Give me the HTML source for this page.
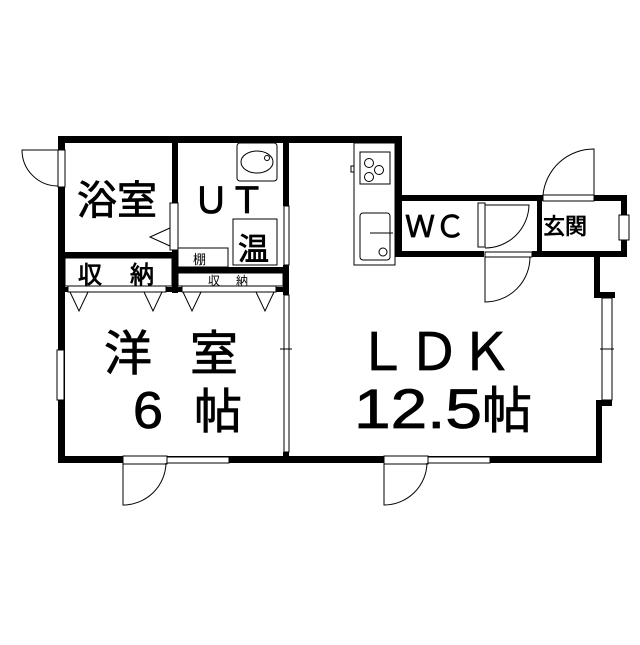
<!DOCTYPE html>
<html><head><meta charset="utf-8"><style>
body{margin:0;background:#fff}
svg text{font-family:"Liberation Sans","Noto Sans CJK JP",sans-serif;fill:#000}
.b{stroke:#000;stroke-width:0.8}
</style></head><body>
<svg width="640" height="640" viewBox="0 0 640 640" xmlns="http://www.w3.org/2000/svg">
<rect width="640" height="640" fill="#fff"/>
<g fill="#000">
<rect x="58" y="136" width="344" height="7"/>
<rect x="58" y="136" width="7" height="327"/>
<rect x="58" y="456" width="544" height="7"/>
<rect x="395" y="136" width="7" height="121"/>
<rect x="395" y="195" width="148" height="6"/>
<rect x="594" y="195" width="33" height="6"/>
<rect x="621" y="195" width="6" height="62"/>
<rect x="395" y="251" width="89" height="6"/>
<rect x="532" y="251" width="95" height="6"/>
<rect x="537" y="198" width="5" height="59"/>
<rect x="594" y="251" width="6" height="44"/>
<rect x="594" y="292" width="21" height="6"/>
<rect x="596" y="400" width="6" height="63"/>
<rect x="596" y="400" width="16" height="6"/>
<rect x="172" y="136" width="6" height="157"/>
<rect x="58" y="252" width="120" height="6"/>
<rect x="172" y="267" width="116" height="6"/>
<rect x="58" y="287" width="230" height="5"/>
<rect x="283" y="136" width="6" height="70"/>
<rect x="283" y="265" width="6" height="30"/>
<rect x="283" y="452" width="6" height="8"/>
</g>
<g fill="#fff" stroke="#000" stroke-width="1">
<rect x="170" y="203" width="8" height="47"/>
<rect x="68" y="286" width="98" height="6"/>
<rect x="182" y="286" width="94" height="6"/>
<rect x="284" y="206" width="5" height="59"/>
<rect x="284" y="295" width="5" height="157"/>
<rect x="58" y="150" width="7" height="37"/>
<rect x="57" y="350" width="7" height="50"/>
<rect x="602" y="298" width="10" height="102"/>
<rect x="619" y="215" width="10" height="25"/>
<rect x="123" y="456" width="44" height="8"/>
<rect x="167" y="457" width="62" height="6"/>
<rect x="384" y="456" width="44" height="8"/>
<rect x="428" y="457" width="62" height="6"/>
<rect x="478" y="203" width="7" height="44"/>
<rect x="485" y="252" width="47" height="5"/>
<rect x="543" y="195" width="51" height="6"/>
<rect x="65" y="258" width="107" height="28"/>
<rect x="178" y="273" width="105" height="13"/>
<rect x="178" y="248" width="50" height="19"/>
<rect x="233" y="219" width="44" height="46"/>
<rect x="237" y="143" width="40" height="38" rx="3"/>
<ellipse cx="257" cy="162" rx="16" ry="11"/>
<circle cx="267" cy="158" r="2.5"/>
<rect x="354" y="143" width="41" height="122"/>
<rect x="360" y="152" width="30" height="32"/>
<circle cx="369" cy="163" r="4.5"/><circle cx="379" cy="170" r="4.5"/><circle cx="369" cy="177" r="4.5"/>
<rect x="360" y="213" width="30" height="47" rx="3"/>
<circle cx="383" cy="252" r="4"/>
<rect x="351" y="166" width="3" height="6"/>
</g>
<g fill="none" stroke="#000" stroke-width="1">
<polyline points="170,228 150,237 170,246"/>
<polyline points="70,292 79,311 88,292"/>
<polyline points="144,292 153,311 162,292"/>
<polyline points="183,292 192,311 201,292"/>
<polyline points="256,292 265,311 274,292"/>
<path d="M58,150 L22,150 A36,36 0 0 0 58,186"/>
<path d="M123,463 L123,505 A43,43 0 0 0 166,463"/>
<path d="M384,463 L384,505 A43,43 0 0 0 427,463"/>
<path d="M485,205 L529,205 A44,44 0 0 1 485,248"/>
<path d="M485,257 L485,302 A45,45 0 0 0 530,257"/>
<path d="M594,195 L594,149 A51,51 0 0 0 543,195"/>
<line x1="370" y1="233" x2="393" y2="233"/>
<line x1="280" y1="349" x2="292" y2="349"/>
<line x1="600" y1="349" x2="614" y2="349"/>
</g>
<g>
<text class="b" x="77" y="214" font-size="40">浴室</text>
<text class="b" x="193" y="213" font-size="36">ＵＴ</text>
<text class="b" x="238" y="260" font-size="31">温</text>
<text x="193" y="264" font-size="13">棚</text>
<text class="b" x="78" y="283" font-size="24">収</text>
<text class="b" x="130" y="283" font-size="24">納</text>
<text x="208" y="285" font-size="12">収</text>
<text x="236" y="285" font-size="12">納</text>
<text class="b" x="104" y="370" font-size="48">洋</text>
<text class="b" x="190" y="370" font-size="48">室</text>
<text class="b" x="133" y="428" font-size="52" textLength="30" lengthAdjust="spacingAndGlyphs">6</text>
<text class="b" x="194" y="428" font-size="48">帖</text>
<text class="b" x="356" y="370" font-size="52">ＬＤＫ</text>
<text class="b" x="354" y="428" font-size="56" textLength="128" lengthAdjust="spacingAndGlyphs">12.5</text>
<text class="b" x="482" y="428" font-size="50">帖</text>
<text class="b" x="405" y="237" font-size="30">ＷＣ</text>
<text class="b" x="543" y="234" font-size="22">玄関</text>
</g>
</svg>
</body></html>
